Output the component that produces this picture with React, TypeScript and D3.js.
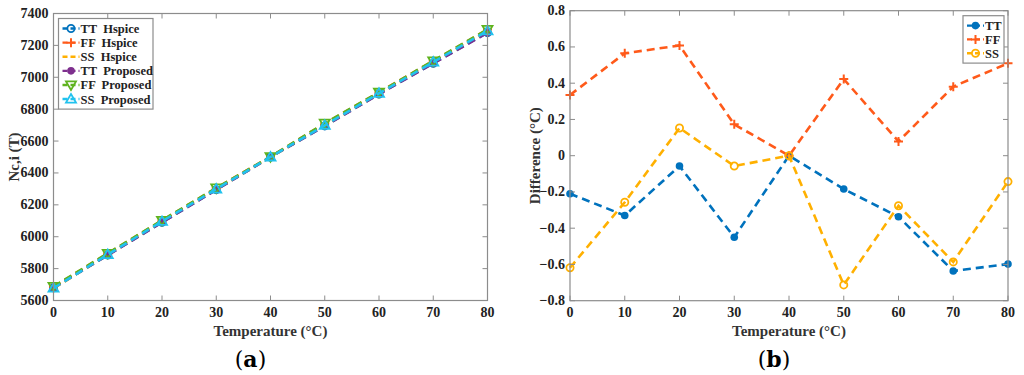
import React from "react";
import * as d3 from "d3";

const temps = [0, 10, 20, 30, 40, 50, 60, 70, 80];

// Nc,i (T) values, left panel
const ttHspice = [5680, 5885, 6090, 6295, 6500, 6695, 6895, 7088, 7280];
const ffHspice = [5686, 5895, 6102, 6305, 6502, 6710, 6905, 7102, 7300];
const ssHspice = [5676, 5887, 6095, 6298, 6500, 6698, 6898, 7094, 7290];
const ttProposed = [5680, 5884, 6090, 6294, 6500, 6694, 6894, 7087, 7279];
const ffProposed = [5688, 5896, 6103, 6306, 6502, 6712, 6906, 7103, 7301];
const ssProposed = [5677, 5888, 6096, 6299, 6500, 6699, 6899, 7095, 7291];

// difference values, right panel
const ttDiff = [-0.21, -0.33, -0.057, -0.45, 0, -0.184, -0.337, -0.636, -0.598];
const ffDiff = [0.335, 0.565, 0.608, 0.173, 0, 0.423, 0.079, 0.381, 0.51];
const ssDiff = [-0.618, -0.257, 0.153, -0.057, 0, -0.713, -0.276, -0.586, -0.143];

const leftYTicks = [5600, 5800, 6000, 6200, 6400, 6600, 6800, 7000, 7200, 7400];
const rightYTicks = [-0.8, -0.6, -0.4, -0.2, 0, 0.2, 0.4, 0.6, 0.8];

const BLUE = "#0072BD";
const ORANGE = "#FF5A1A";
const YELLOW = "#FFB000";
const PURPLE = "#7E2F8E";
const GREEN = "#5FB31E";
const CYAN = "#21C2EE";
const AXIS = "#8c8c8c";
const FONT = "Liberation Serif";

type Mk = "o" | "+" | "none" | "dot" | "tridown" | "triup";

const Marker = ({ x, y, m, color }: { x: number; y: number; m: Mk; color: string }) => {
  if (m === "o") return <circle cx={x} cy={y} r={3.6} fill="none" stroke={color} strokeWidth={1.8} />;
  if (m === "dot") return <circle cx={x} cy={y} r={3.8} fill={color} />;
  if (m === "+")
    return (
      <path d={`M${x - 4.5},${y}H${x + 4.5}M${x},${y - 4.5}V${y + 4.5}`} stroke={color} strokeWidth={2} />
    );
  if (m === "tridown")
    return (
      <path d={`M${x - 5},${y - 3.5}L${x + 5},${y - 3.5}L${x},${y + 5}Z`} fill="none" stroke={color} strokeWidth={1.8} />
    );
  if (m === "triup")
    return (
      <path d={`M${x - 5},${y + 3.5}L${x + 5},${y + 3.5}L${x},${y - 5}Z`} fill="none" stroke={color} strokeWidth={1.8} />
    );
  return null;
};

type Series = { name: string; values: number[]; color: string; marker: Mk };

const Panel = ({
  x0, x1, y0, y1, yDomain, yTicks, yFmt, series, yLabel, yLabelX, caption, legend,
}: {
  x0: number; x1: number; y0: number; y1: number;
  yDomain: [number, number]; yTicks: number[]; yFmt: (v: number) => string;
  series: Series[]; yLabel: React.ReactNode; yLabelX: number; caption: string;
  legend: { x: number; y: number; w: number; rowH: number };
}) => {
  const xs = d3.scaleLinear().domain([0, 80]).range([x0, x1]);
  const ys = d3.scaleLinear().domain(yDomain).range([y1, y0]);
  const line = d3.line<number>().x((_, i) => xs(temps[i])).y((d) => ys(d));
  const tk = 5;
  return (
    <g style={{ fontFamily: FONT, fontWeight: "bold" }}>
      {series.map((s) => (
        <g key={s.name}>
          <path d={line(s.values) || ""} fill="none" stroke={s.color} strokeWidth={2.6} strokeDasharray="8,5" />
          {s.values.map((v, i) => (
            <Marker key={i} x={xs(temps[i])} y={ys(v)} m={s.marker} color={s.color} />
          ))}
        </g>
      ))}
      <rect x={x0} y={y0} width={x1 - x0} height={y1 - y0} fill="none" stroke={AXIS} strokeWidth={1.2} />
      {temps.map((t) => (
        <g key={t}>
          <line x1={xs(t)} x2={xs(t)} y1={y1} y2={y1 - tk} stroke={AXIS} />
          <line x1={xs(t)} x2={xs(t)} y1={y0} y2={y0 + tk} stroke={AXIS} />
          <text x={xs(t)} y={y1 + 16} textAnchor="middle" fontSize={14} fill="#222">{t}</text>
        </g>
      ))}
      {yTicks.map((t) => (
        <g key={t}>
          <line x1={x0} x2={x0 + tk} y1={ys(t)} y2={ys(t)} stroke={AXIS} />
          <line x1={x1} x2={x1 - tk} y1={ys(t)} y2={ys(t)} stroke={AXIS} />
          <text x={x0 - 5} y={ys(t) + 4.5} textAnchor="end" fontSize={14} fill="#222">{yFmt(t)}</text>
        </g>
      ))}
      <text x={(x0 + x1) / 2} y={y1 + 35} textAnchor="middle" fontSize={15} fill="#333">Temperature (°C)</text>
      <text transform={`translate(${yLabelX},${(y0 + y1) / 2}) rotate(-90)`} textAnchor="middle" fontSize={15} fill="#333">
        {yLabel}
      </text>
      <text x={(x0 + x1) / 2 + (caption === "a" ? -20 : -15)} y={y1 + 66} textAnchor="middle" fontSize={22} fill="#000" style={{ fontFamily: "DejaVu Serif", fontWeight: "normal" }}>
        (<tspan fontWeight="bold">{caption}</tspan>)
      </text>
      <rect x={legend.x} y={legend.y} width={legend.w} height={legend.rowH * series.length + 6} fill="#fff" stroke={AXIS} strokeWidth={1.2} />
      {series.map((s, i) => {
        const cy = legend.y + 3 + legend.rowH * (i + 0.5);
        return (
          <g key={s.name}>
            <line x1={legend.x + 4} x2={legend.x + 21} y1={cy} y2={cy} stroke={s.color} strokeWidth={2.4} strokeDasharray="5,3" />
            <Marker x={legend.x + 12.5} y={cy} m={s.marker} color={s.color} />
            <text x={legend.x + 22} y={cy + 4.5} fontSize={12.5} fill="#222" xmlSpace="preserve">{s.name}</text>
          </g>
        );
      })}
    </g>
  );
};

export default function App() {
  const leftSeries: Series[] = [
    { name: "TT  Hspice", values: ttHspice, color: BLUE, marker: "o" },
    { name: "FF  Hspice", values: ffHspice, color: ORANGE, marker: "+" },
    { name: "SS  Hspice", values: ssHspice, color: YELLOW, marker: "none" },
    { name: "TT  Proposed", values: ttProposed, color: PURPLE, marker: "dot" },
    { name: "FF  Proposed", values: ffProposed, color: GREEN, marker: "tridown" },
    { name: "SS  Proposed", values: ssProposed, color: CYAN, marker: "triup" },
  ];
  const rightSeries: Series[] = [
    { name: "TT", values: ttDiff, color: BLUE, marker: "dot" },
    { name: "FF", values: ffDiff, color: ORANGE, marker: "+" },
    { name: "SS", values: ssDiff, color: YELLOW, marker: "o" },
  ];
  return (
    <svg width={1024} height={375} style={{ position: "absolute", left: 0, top: 0, background: "#fff" }}>
      <Panel
        x0={53.5} x1={487.5} y0={13.5} y1={300.5}
        yDomain={[5600, 7400]} yTicks={leftYTicks} yFmt={(v) => String(v)}
        series={leftSeries} yLabel="Nc,i (T)" yLabelX={19} caption="a"
        legend={{ x: 58.5, y: 18.5, w: 94.5, rowH: 14.1 }}
      />
      <Panel
        x0={570} x1={1008} y0={10.7} y1={300.7}
        yDomain={[-0.8, 0.8]} yTicks={rightYTicks} yFmt={(v) => (v === 0 ? "0" : d3.format(".1f")(v))}
        series={rightSeries} yLabel="Difference (°C)" yLabelX={540} caption="b"
        legend={{ x: 963, y: 15.7, w: 41, rowH: 13.8 }}
      />
    </svg>
  );
}
